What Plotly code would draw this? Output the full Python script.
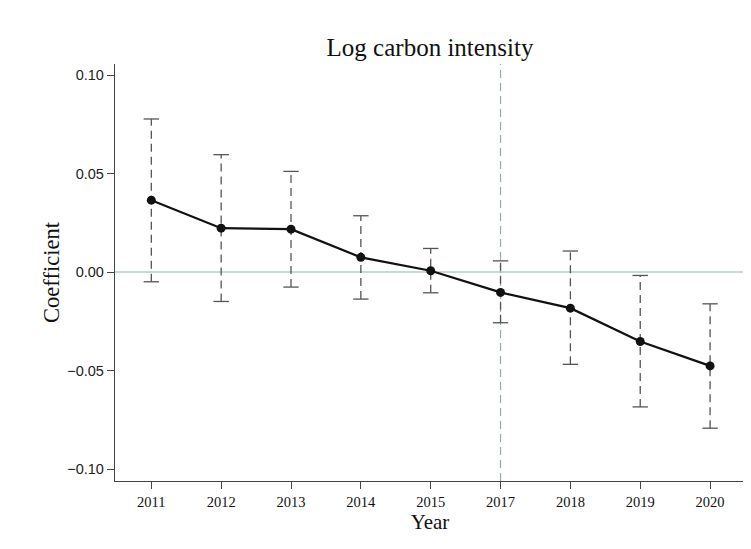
import plotly.graph_objects as go

years = ["2011", "2012", "2013", "2014", "2015", "2017", "2018", "2019", "2020"]
coef = [0.0365, 0.0223, 0.0218, 0.0075, 0.0007, -0.0103, -0.0183, -0.0352, -0.0476]
ci_upper = [0.0777, 0.0596, 0.0511, 0.0286, 0.0120, 0.0057, 0.0107, -0.0017, -0.0161]
ci_lower = [-0.0049, -0.0149, -0.0076, -0.0137, -0.0105, -0.0257, -0.0468, -0.0684, -0.0792]
y_ticks = [-0.10, -0.05, 0.00, 0.05, 0.10]
ref_year = "2017"

FONT = "Liberation Serif, Times New Roman, serif"
SANS = "Liberation Sans, Arial, sans-serif"
ERR_COLOR = "#555555"

fig = go.Figure()

# dashed CI lines
for yr, lo, hi in zip(years, ci_lower, ci_upper):
    fig.add_trace(go.Scatter(
        x=[yr, yr], y=[lo, hi], mode="lines",
        line=dict(color=ERR_COLOR, width=1.3, dash="8px,5px"),
        showlegend=False, hoverinfo="skip"))

# caps
fig.add_trace(go.Scatter(
    x=years + years, y=ci_upper + ci_lower, mode="markers",
    marker=dict(symbol="line-ew", size=11, line=dict(color=ERR_COLOR, width=1.3)),
    showlegend=False, hoverinfo="skip"))

# coefficient line
fig.add_trace(go.Scatter(
    x=years, y=coef, mode="lines+markers",
    line=dict(color="#111111", width=2.2),
    marker=dict(color="#111111", size=9),
    showlegend=False))

# reference lines
fig.add_hline(y=0, line=dict(color="#b7cdc8", width=1.5), layer="below")
fig.add_vline(x=years.index(ref_year), line=dict(color="#8fb0a8", width=1.2, dash="8px,5px"), layer="below")

fig.update_layout(
    width=751, height=549,
    paper_bgcolor="white", plot_bgcolor="white",
    margin=dict(l=107, r=14, t=56, b=76),
    font=dict(family=FONT, color="#111111"),
    title=dict(text="Log carbon intensity", x=0.562, xanchor="center",
               y=0.929, yanchor="middle", font=dict(size=25, family=FONT, color="#111111")),
    xaxis=dict(
        type="category", categoryorder="array", categoryarray=years,
        range=[-0.52, 8.5], showgrid=False, zeroline=False,
        showline=True, linecolor="#444444", linewidth=1.3,
        ticks="outside", ticklen=7, tickcolor="#444444", tickwidth=1.3,
        tickfont=dict(size=14.5, family=FONT, color="#111111"),
        title=dict(text="Year", font=dict(size=21, family=FONT, color="#111111"), standoff=3),
    ),
    yaxis=dict(
        range=[-0.106, 0.1056], tickvals=y_ticks, tickformat=".2f",
        showgrid=False, zeroline=False,
        showline=True, linecolor="#444444", linewidth=1.3,
        ticks="outside", ticklen=7, tickcolor="#444444", tickwidth=1.3,
        tickfont=dict(size=14.5, family=SANS, color="#222222"),
        title=dict(text="Coefficient", font=dict(size=22.5, family=FONT, color="#111111"), standoff=1),
    ),
)

fig.write_html("out.html")
